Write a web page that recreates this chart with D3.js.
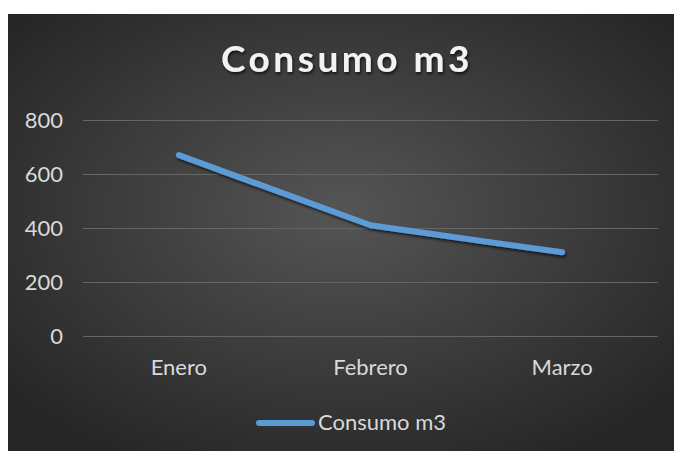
<!DOCTYPE html>
<html>
<head>
<meta charset="utf-8">
<script src="https://cdn.jsdelivr.net/npm/d3@7"></script>
<style>
  body { margin: 0; background: #fff; }
  svg { display: block; }
</style>
</head>
<body>
<div class="chart"></div>
<script>
const months = ['Enero', 'Febrero', 'Marzo'];
const consumo = [670, 410, 310];
const yTicks = [0, 200, 400, 600, 800];
const seriesName = 'Consumo m3';

const w = 674;
const h = 451;
const plotLeft = 83;
const plotRight = 658;
const plotTop = 120;
const plotBottom = 336;
const font = 'Lato, "Open Sans", sans-serif';

const svg = d3
  .select('.chart')
  .append('svg')
  .attr('width', w)
  .attr('height', h);

const defs = svg.append('defs');
const grad = defs
  .append('radialGradient')
  .attr('id', 'bg')
  .attr('cx', '50%')
  .attr('cy', '45%')
  .attr('r', '65%');
grad.append('stop').attr('offset', '0%').attr('stop-color', '#555555');
grad.append('stop').attr('offset', '100%').attr('stop-color', '#262626');

const shadow = defs.append('filter').attr('id', 'shadow')
  .attr('x', '-10%').attr('y', '-10%').attr('width', '120%').attr('height', '130%');
shadow.append('feDropShadow')
  .attr('dx', 1).attr('dy', 2).attr('stdDeviation', 1.5)
  .attr('flood-color', '#000').attr('flood-opacity', 0.7);

// background
svg.append('rect')
  .attr('x', 8)
  .attr('y', 14)
  .attr('width', w - 8)
  .attr('height', h - 14)
  .attr('fill', 'url(#bg)');

// title
svg.append('text')
  .attr('x', 347)
  .attr('y', 72)
  .attr('text-anchor', 'middle')
  .style('font-family', font)
  .style('font-size', '37px')
  .style('font-weight', 'bold')
  .style('letter-spacing', '3.5px')
  .style('fill', '#f2f2f2')
  .attr('filter', 'url(#shadow)')
  .text(seriesName);

// scales
const xScale = d3.scaleBand().domain(months).range([plotLeft, plotRight]);
const yScale = d3.scaleLinear().domain([0, 800]).range([plotBottom, plotTop]);

// gridlines + y axis
const yAxis = d3.axisLeft(yScale).tickValues(yTicks).tickSize(-(plotRight - plotLeft)).tickPadding(20);
const gy = svg.append('g')
  .attr('transform', `translate(${plotLeft},0)`)
  .call(yAxis);
gy.select('.domain').remove();
gy.selectAll('.tick line').attr('stroke', '#666666').attr('stroke-width', 1);
gy.selectAll('.tick text')
  .style('font-family', font)
  .style('font-size', '22px')
  .style('fill', '#d9d9d9');

// x axis
const xAxis = d3.axisBottom(xScale).tickSize(0).tickPadding(23);
const gx = svg.append('g')
  .attr('transform', `translate(0,${plotBottom})`)
  .call(xAxis);
gx.select('.domain').remove();
gx.selectAll('.tick text')
  .style('font-family', font)
  .style('font-size', '22px')
  .style('fill', '#d9d9d9');

// line
const line = d3.line()
  .x((d, i) => xScale(months[i]) + xScale.bandwidth() / 2)
  .y((d) => yScale(d));

svg.append('path')
  .datum(consumo)
  .attr('d', line)
  .attr('fill', 'none')
  .attr('stroke', '#5b9bd5')
  .attr('stroke-width', 6)
  .attr('stroke-linecap', 'round')
  .attr('stroke-linejoin', 'round')
  .attr('filter', 'url(#shadow)');

// legend
const legend = svg.append('g').attr('transform', 'translate(259,423)');
legend.append('line')
  .attr('x1', 0).attr('x2', 53).attr('y1', 0).attr('y2', 0)
  .attr('stroke', '#5b9bd5')
  .attr('stroke-width', 6)
  .attr('stroke-linecap', 'round');
legend.append('text')
  .attr('x', 59)
  .attr('y', 7)
  .style('font-family', font)
  .style('font-size', '22px')
  .style('fill', '#d9d9d9')
  .text(seriesName);
</script>
</body>
</html>
